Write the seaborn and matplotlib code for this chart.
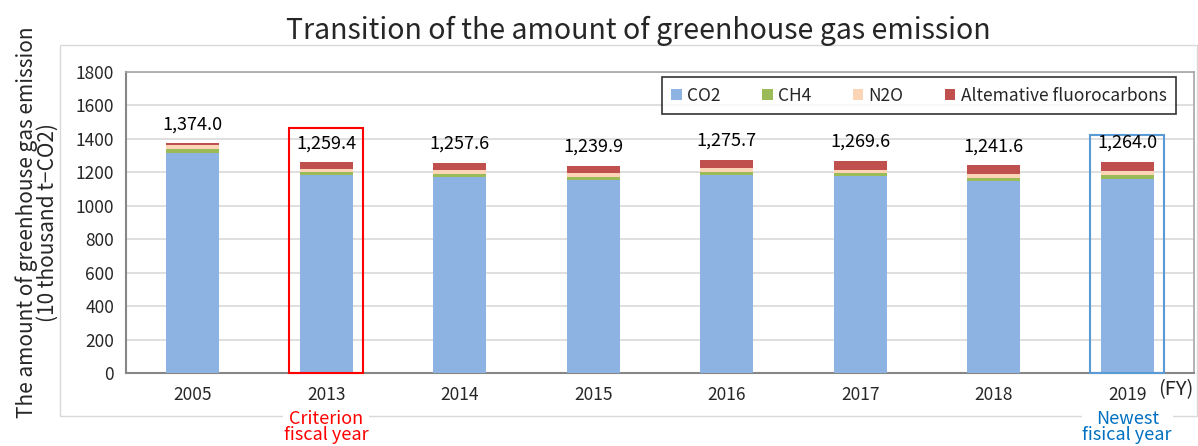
import numpy as np
import pandas as pd
import matplotlib
matplotlib.use("Agg")
import matplotlib.pyplot as plt
import matplotlib.patches as patches
from matplotlib.transforms import blended_transform_factory
import seaborn as sns

# data (10 thousand t-CO2)
years = ["2005", "2013", "2014", "2015", "2016", "2017", "2018", "2019"]
co2 = [1318.0, 1181.4, 1172.6, 1151.9, 1181.7, 1175.6, 1145.6, 1162.0]
ch4 = [22, 18, 20, 22, 22, 20, 20, 20]
n2o = [24, 20, 20, 22, 20, 20, 22, 24]
alt_fc = [10, 40, 45, 44, 52, 54, 54, 58]
totals = [1374.0, 1259.4, 1257.6, 1239.9, 1275.7, 1269.6, 1241.6, 1264.0]

gas_names = ["CO2", "CH4", "N2O", "Altemative fluorocarbons"]
gas_colors = ["#8DB3E2", "#9BBB59", "#FBD5B5", "#C0504D"]

sns.set_style("white")
plt.rcParams['font.family'] = ['Noto Sans CJK JP', 'DejaVu Sans']

df = pd.DataFrame({"year": years, "CO2": co2, "CH4": ch4, "N2O": n2o, "Alt": alt_fc})
layers = np.cumsum(df[["CO2", "CH4", "N2O", "Alt"]].to_numpy(), axis=1)

fig = plt.figure(figsize=(11.98, 4.46), dpi=100)
ax = fig.add_axes([126 / 1198, 1 - 373 / 446, (1194 - 126) / 1198, 301 / 446])

# outer light frame of the chart area (drawn below the axes so notes can cover it)
fig.patches.append(patches.Rectangle((60 / 1198, 1 - 416 / 446), (1197 - 60) / 1198, (416 - 45) / 446,
                                     transform=fig.transFigure, fill=False,
                                     edgecolor="#D9D9D9", linewidth=1.0, zorder=-1))

# stacked bars: draw cumulative heights from the top layer down
for k in range(3, -1, -1):
    sns.barplot(x=df["year"], y=layers[:, k], color=gas_colors[k], width=0.4,
                saturation=1, edgecolor="none", linewidth=0, ax=ax, zorder=3)

for i, t in enumerate(totals):
    ax.text(i, t + 112, f"{t:,.1f}", ha="center", va="center", fontsize=13, color="black", zorder=5)

ax.set_ylim(0, 1800)
ax.set_xlim(-0.5, len(years) - 0.5)
ax.set_yticks(range(0, 1801, 200))
ax.yaxis.grid(True, color="#D9D9D9", linewidth=1.2, zorder=0)
ax.set_axisbelow(True)
ax.set_xlabel("")
ax.set_ylabel("The amount of greenhouse gas emission\n(10 thousand t\u2212CO2)", fontsize=15, labelpad=12,
              linespacing=0.95)
ax.tick_params(axis="both", labelsize=12.5, length=5, color="#868686", direction="out")
ax.tick_params(axis="x", length=0, pad=9)
ax.set_xticks(np.arange(-0.5, len(years), 1), minor=True)
ax.tick_params(axis="x", which="minor", length=6, color="#868686", direction="out")
for s in ["left", "bottom"]:
    ax.spines[s].set_color("#868686")
    ax.spines[s].set_linewidth(1.5)
for s in ["top", "right"]:
    ax.spines[s].set_color("#A6A6A6")
    ax.spines[s].set_linewidth(1.2)

# highlight boxes for criterion and newest years
ax.add_patch(patches.Rectangle((1 - 0.277, 0), 0.554, 1465, fill=False, edgecolor="#FF0000",
                               linewidth=1.5, zorder=4, clip_on=False))
ax.add_patch(patches.Rectangle((7 - 0.277, 0), 0.554, 1425, fill=False, edgecolor="#5B9BD5",
                               linewidth=1.5, zorder=4, clip_on=False))

trans = blended_transform_factory(ax.transData, ax.transAxes)
note_box = dict(facecolor="white", edgecolor="none", pad=0.5)
ax.text(1, -0.18, "Criterion\nfiscal year", transform=trans, ha="center", va="center",
        color="#FF0000", fontsize=13, linespacing=0.9, bbox=note_box)
ax.text(7, -0.18, "Newest\nfisical year", transform=trans, ha="center", va="center",
        color="#0070C0", fontsize=13, linespacing=0.9, bbox=note_box)
ax.text(7.5, -0.055, "(FY)", transform=trans, ha="right", va="center", fontsize=14.5)

handles = [patches.Patch(facecolor=c, edgecolor="none") for c in gas_colors]
leg = ax.legend(handles, gas_names, ncol=4, loc="upper right",
                bbox_to_anchor=((1176 - 126) / 1068, 1 - 5 / 301), borderaxespad=0,
                fontsize=12.5, frameon=True, fancybox=False, edgecolor="black", handlelength=0.6,
                handleheight=0.6, columnspacing=2.4, handletextpad=0.3, borderpad=0.55)
leg.get_frame().set_linewidth(1.2)

fig.text(638 / 1198, 1 - 31 / 446, "Transition of the amount of greenhouse gas emission",
         ha="center", va="center", fontsize=20.5)

fig.savefig("out.png", dpi=100)
